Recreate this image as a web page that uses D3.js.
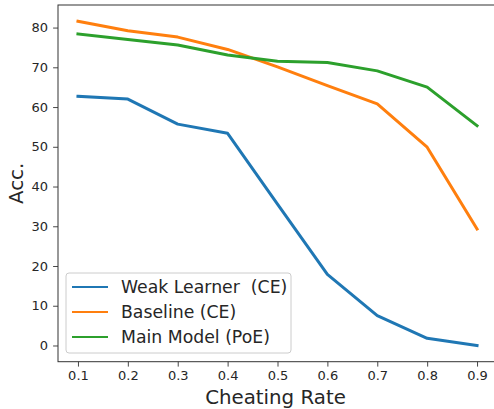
<!DOCTYPE html>
<html><head><meta charset="utf-8">
<script src="https://cdn.jsdelivr.net/npm/d3@7"></script>
<style>body{margin:0;background:#fff}svg{display:block}</style>
</head><body>
<script>
const rates = [0.1,0.2,0.3,0.4,0.5,0.6,0.7,0.8,0.9];
const weak = [62.7,62.0,55.7,53.4,35.6,17.9,7.5,1.8,0.0];
const baseline = [81.6,79.2,77.6,74.5,70.1,65.4,60.8,49.9,29.3];
const main = [78.4,77.0,75.6,73.1,71.5,71.2,69.1,65.0,55.3];
const seriesNames = ["Weak Learner  (CE)","Baseline (CE)","Main Model (PoE)"];
const colors = ["#1f77b4","#ff7f0e","#2ca02c"];
const yTicks = [0,10,20,30,40,50,60,70,80];

const W=494,H=409;
const svg=d3.select("body").append("svg").attr("width",W).attr("height",H);
const L=58,R=497,T=5,B=361.7;
const x=d3.scaleLinear().domain([0.06,0.94]).range([L,R]);
const y=d3.scaleLinear().domain([-4.08,85.68]).range([B,T]);
const font="DejaVu Sans, sans-serif";

// axes
const xa=svg.append("g").attr("transform",`translate(0,${B})`)
  .call(d3.axisBottom(x).tickValues(rates).tickFormat(d3.format(".1f")).tickSizeOuter(0).tickSize(4.9).tickPadding(4));
const ya=svg.append("g").attr("transform",`translate(${L},0)`)
  .call(d3.axisLeft(y).tickValues(yTicks).tickSizeOuter(0).tickSize(4.9).tickPadding(5));
[xa,ya].forEach(g=>{
  g.select(".domain").remove();
  g.selectAll("line").attr("stroke","#333").attr("stroke-width",0.9);
  g.selectAll("text").attr("fill","#262626").style("font-family",font).style("font-size","13px");
});
svg.append("rect").attr("x",L).attr("y",T).attr("width",R-L).attr("height",B-T)
  .attr("fill","none").attr("stroke","#333").attr("stroke-width",1);

const line=d3.line().x((d,i)=>x(rates[i])).y(d=>y(d));
[weak,baseline,main].forEach((s,i)=>{
  svg.append("path").datum(s).attr("d",line).attr("fill","none")
    .attr("stroke",colors[i]).attr("stroke-width",3).attr("stroke-linejoin","round").attr("stroke-linecap","square");
});

// labels
svg.append("text").attr("x",(L+R)/2 - 2).attr("y",404).attr("text-anchor","middle")
  .style("font-family",font).style("font-size","19.8px").attr("fill","#262626").text("Cheating Rate");
svg.append("text").attr("transform",`translate(23,${(T+B)/2}) rotate(-90)`).attr("text-anchor","middle")
  .style("font-family",font).style("font-size","19.8px").attr("fill","#262626").text("Acc.");

// legend
const lg=svg.append("g");
lg.append("rect").attr("x",66).attr("y",273).attr("width",225).attr("height",80).attr("rx",3)
  .attr("fill","#fff").attr("fill-opacity",0.8).attr("stroke","#ccc").attr("stroke-width",1);
seriesNames.forEach((n,i)=>{
  const yy=287+i*25;
  lg.append("line").attr("x1",72).attr("x2",108).attr("y1",yy).attr("y2",yy).attr("stroke",colors[i]).attr("stroke-width",2);
  lg.append("text").attr("x",121).attr("y",yy).attr("dy","0.36em").style("white-space","pre")
    .style("font-family",font).style("font-size","17.3px").attr("fill","#262626").text(n);
});
</script>
</body></html>
